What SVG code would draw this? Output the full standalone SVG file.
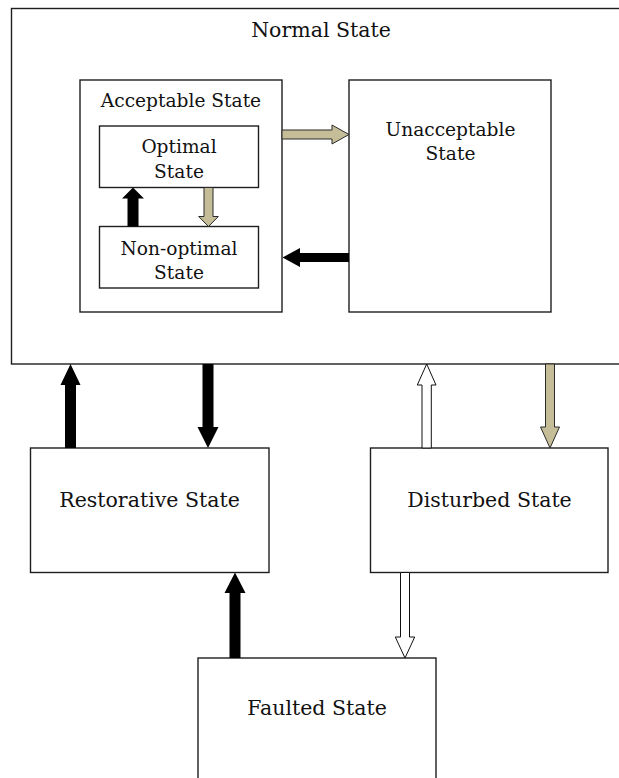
<svg xmlns="http://www.w3.org/2000/svg" width="619" height="778" viewBox="0 0 619 778">
  <style>
    .box { fill: #ffffff; stroke: #1e1e1e; stroke-width: 1.4; }
    .lbl { font-family: "DejaVu Serif", "Liberation Serif", serif; fill: #111111; text-anchor: middle; }
    .big { font-size: 20.5px; }
    .small { font-size: 18.6px; }
    .blk { fill: #000000; stroke: none; }
    .tan { fill: #c4bd97; stroke: #2a2a2a; stroke-width: 1; stroke-linejoin: miter; }
    .wht { fill: #ffffff; stroke: #111111; stroke-width: 1; stroke-linejoin: miter; }
  </style>
  <rect width="619" height="778" fill="#ffffff"/>

  <!-- outer container -->
  <g id="normal">
    <rect class="box" x="11.5" y="8.5" width="620" height="355.5"/>
    <text class="lbl big" x="321" y="37">Normal State</text>
  </g>

  <g id="acceptable">
    <rect class="box" x="80" y="80" width="202" height="232"/>
    <text class="lbl small" x="181" y="107">Acceptable State</text>
  </g>

  <g id="optimal">
    <rect class="box" x="99.5" y="126" width="159" height="61.5"/>
    <text class="lbl small" x="179" y="153">Optimal</text>
    <text class="lbl small" x="179" y="178">State</text>
  </g>

  <g id="nonoptimal">
    <rect class="box" x="99.5" y="226.5" width="159" height="61.5"/>
    <text class="lbl small" x="179" y="255">Non-optimal</text>
    <text class="lbl small" x="179" y="279">State</text>
  </g>

  <g id="unacceptable">
    <rect class="box" x="349" y="80" width="202" height="232"/>
    <text class="lbl small" x="450.5" y="135.5">Unacceptable</text>
    <text class="lbl small" x="450.5" y="160">State</text>
  </g>

  <g id="restorative">
    <rect class="box" x="30.5" y="448" width="238.5" height="124.5"/>
    <text class="lbl big" x="149.5" y="507">Restorative State</text>
  </g>

  <g id="disturbed">
    <rect class="box" x="370.5" y="448" width="237.5" height="124.5"/>
    <text class="lbl big" x="489.5" y="507">Disturbed State</text>
  </g>

  <g id="faulted">
    <rect class="box" x="198" y="658" width="238" height="130"/>
    <text class="lbl big" x="317" y="715">Faulted State</text>
  </g>

  <!-- block arrows between states -->
  <g id="connectors">
    <!-- acceptable -> unacceptable -->
    <polygon class="tan" points="282,130 332,130 332,125 349,134.5 332,144 332,139 282,139"/>
    <!-- unacceptable -> acceptable -->
    <polygon class="blk" points="349,253 300,253 300,248 282.5,257.5 300,267 300,262 349,262"/>
    <!-- non-optimal -> optimal -->
    <polygon class="blk" points="127.5,226.5 127.5,198.5 122,198.5 133,187.5 144,198.5 138.5,198.5 138.5,226.5"/>
    <!-- optimal -> non-optimal -->
    <polygon class="tan" points="204,187.5 213,187.5 213,216.5 218.3,216.5 208.5,226.5 198.7,216.5 204,216.5"/>

    <!-- restorative -> normal -->
    <polygon class="blk" points="65,448 65,385 60.5,385 70.5,364 80.5,385 76,385 76,448"/>
    <!-- normal -> restorative -->
    <polygon class="blk" points="202.5,364 213.5,364 213.5,427 218.5,427 208,448 197.5,427 202.5,427"/>
    <!-- disturbed -> normal -->
    <polygon class="wht" points="422,448 422,385 417.3,385 426.7,364 436,385 431.3,385 431.3,448"/>
    <!-- normal -> disturbed -->
    <polygon class="tan" points="545.5,364 554.5,364 554.5,427 559.5,427 550,448 540.5,427 545.5,427"/>
    <!-- faulted -> restorative -->
    <polygon class="blk" points="229.5,658 229.5,593 224.5,593 235,572.5 245.5,593 240.5,593 240.5,658"/>
    <!-- disturbed -> faulted -->
    <polygon class="wht" points="400.5,572.5 409.5,572.5 409.5,637 414.7,637 405,658 395.3,637 400.5,637"/>
  </g>
</svg>
